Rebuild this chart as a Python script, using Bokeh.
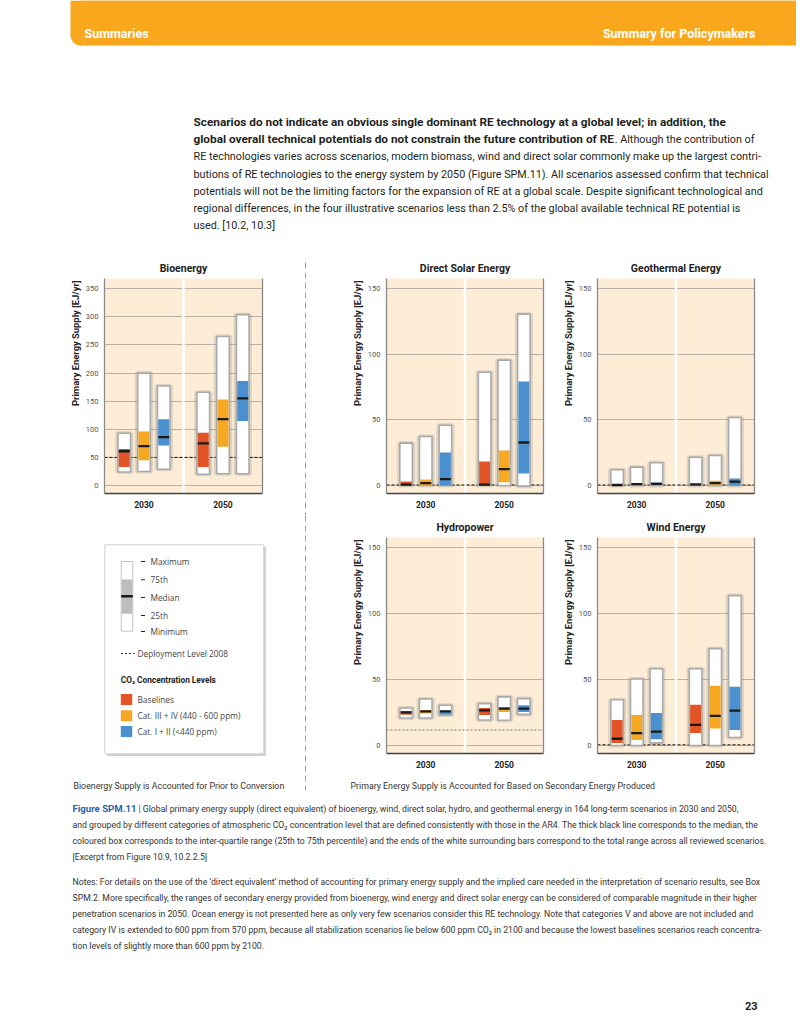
from bokeh.plotting import figure
from bokeh.models import Range1d, LinearAxis, FixedTicker, Title, Span
from bokeh.layouts import column, row
from bokeh.embed import file_html
from bokeh.resources import INLINE
from bokeh.core.properties import value

FONT = "Roboto"
SANS = "Open Sans"
TXT = "#231f20"
PEACH = "#FDEDD7"
GRID = "#b9b1a7"

YEARS = ["2030", "2050"]
GROUPS = ["Baselines", "Cat. III + IV (440 - 600 ppm)", "Cat. I + II (<440 ppm)"]
COLORS = ["#E25326", "#F7A823", "#4A90CE"]

# order of each list: 2030 (Baselines, Cat III+IV, Cat I+II), 2050 (Baselines, Cat III+IV, Cat I+II)
BIO_MIN = [24, 25, 29, 20, 21, 21]
BIO_Q25 = [33, 45, 71, 33, 69, 115]
BIO_MED = [61, 70, 86, 75, 118, 155]
BIO_Q75 = [65, 96, 118, 94, 153, 186]
BIO_MAX = [93, 200, 177, 166, 265, 304]

SOL_MIN = [0, 0, 0, 0, 0, -0.5]
SOL_Q25 = [0, 0, 0, 0, 2.5, 9.2]
SOL_MED = [0.6, 1.8, 4.8, 0.6, 12.5, 32.8]
SOL_Q75 = [3, 4.6, 25.2, 18.3, 26.7, 79.3]
SOL_MAX = [32.3, 37.4, 46, 86.4, 95.6, 130.7]

GEO_MIN = [0, 0, 0, 0, 0, 0]
GEO_Q25 = [0, 0, 0.5, 0, 0.5, 0]
GEO_MED = [0.4, 1.0, 1.2, 0.8, 1.8, 3.0]
GEO_Q75 = [0.5, 1.2, 2.3, 1.0, 3.6, 5.3]
GEO_MAX = [12, 14, 17.3, 21.6, 22.9, 51.9]

HYD_MIN = [20.8, 20.8, 23.1, 19.3, 19.1, 23.6]
HYD_Q25 = [23.4, 24.2, 23.6, 23.1, 25.4, 25.4]
HYD_MED = [25.2, 25.9, 25.9, 26.7, 28.0, 28.0]
HYD_Q75 = [26.0, 26.7, 26.4, 28.5, 29.2, 30.5]
HYD_MAX = [28.5, 35.3, 30.5, 31.8, 36.9, 35.6]

WIN_MIN = [0, 0, 2, 0, 0, 6.1]
WIN_Q25 = [1.8, 4.1, 4.8, 9.4, 12.8, 11.7]
WIN_MED = [5.1, 9.4, 10.5, 15.6, 22.4, 26.5]
WIN_Q75 = [19.4, 23.2, 24.7, 30.9, 45.4, 44.6]
WIN_MAX = [34.7, 50.5, 58.2, 58.2, 73.5, 113.8]

DEPLOY_2008 = {"bio": 50, "sol": 0.4, "geo": 0.4, "hyd": 11.7, "win": 0.5}

BIO_TICKS = [0, 50, 100, 150, 200, 250, 300, 350]
OTHER_TICKS = [0, 50, 100, 150]

PARAGRAPH = [
    ("Scenarios do not indicate an obvious single dominant RE technology at a global level; in addition, the", ""),
    ("global overall technical potentials do not constrain the future contribution of RE", ". Although the contribution of"),
    ("", "RE technologies varies across scenarios, modern biomass, wind and direct solar commonly make up the largest contri-"),
    ("", "butions of RE technologies to the energy system by 2050 (Figure SPM.11). All scenarios assessed confirm that technical"),
    ("", "potentials will not be the limiting factors for the expansion of RE at a global scale. Despite significant technological and"),
    ("", "regional differences, in the four illustrative scenarios less than 2.5% of the global available technical RE potential is"),
    ("", "used. [10.2, 10.3]"),
]

CAPTION_FIRST = "| Global primary energy supply (direct equivalent) of bioenergy, wind, direct solar, hydro, and geothermal energy in 164 long-term scenarios in 2030 and 2050,"
CAPTION = [
    "and grouped by different categories of atmospheric CO\u2082 concentration level that are defined consistently with those in the AR4. The thick black line corresponds to the median, the",
    "coloured box corresponds to the inter-quartile range (25th to 75th percentile) and the ends of the white surrounding bars correspond to the total range across all reviewed scenarios.",
    "[Excerpt from Figure 10.9, 10.2.2.5]",
]

NOTES = [
    "Notes: For details on the use of the \u2018direct equivalent\u2019 method of accounting for primary energy supply and the implied care needed in the interpretation of scenario results, see Box",
    "SPM.2. More specifically, the ranges of secondary energy provided from bioenergy, wind energy and direct solar energy can be considered of comparable magnitude in their higher",
    "penetration scenarios in 2050. Ocean energy is not presented here as only very few scenarios consider this RE technology. Note that categories V and above are not included and",
    "category IV is extended to 600 ppm from 570 ppm, because all stabilization scenarios lie below 600 ppm CO\u2082 in 2100 and because the lowest baselines scenarios reach concentra-",
    "tion levels of slightly more than 600 ppm by 2100.",
]


def no_align(p):
    try:
        p.frame_align = False
    except Exception:
        pass


def canvas(w, h, x0, y0):
    p = figure(width=w, height=h, x_range=Range1d(x0, x0 + w), y_range=Range1d(y0 + h, y0),
               output_backend="svg", toolbar_location=None, x_axis_location=None,
               y_axis_location=None, min_border=0)
    p.min_border_left = p.min_border_right = p.min_border_top = p.min_border_bottom = 0
    p.grid.visible = False
    p.outline_line_color = None
    p.background_fill_color = "white"
    p.border_fill_color = "white"
    no_align(p)
    return p


def txt(p, x, y, s, size, color=TXT, bold=False, align="left", font=FONT):
    p.text(x=[x], y=[y], text=[s], text_font=value(font), text_font_size=value(f"{size}px"),
           text_font_style="bold" if bold else "normal", text_color=color,
           text_align=align, text_baseline="middle")


def panel(name, w, bl, br, bt, bb, yr, ticks, mins, q25, med, q75, maxs, deploy,
          dep_color="#111111", dep_dash="3 2"):
    p = figure(width=w, height=260, x_range=Range1d(0, 4), y_range=Range1d(*yr),
               output_backend="svg", toolbar_location=None, x_axis_location=None,
               y_axis_location=None, title=name)
    no_align(p)
    p.min_border_left = bl
    p.min_border_right = br
    p.min_border_top = bt
    p.min_border_bottom = bb
    p.title.align = "center"
    p.title.text_font = FONT
    p.title.text_font_size = "10.5px"
    p.title.text_font_style = "bold"
    p.title.text_color = "#222222"
    p.title.standoff = 7
    p.background_fill_color = PEACH
    p.border_fill_color = "white"
    p.outline_line_color = None
    p.xgrid.visible = False
    p.ygrid.ticker = FixedTicker(ticks=ticks)
    p.ygrid.grid_line_color = GRID
    p.ygrid.grid_line_width = 1

    yax = LinearAxis(ticker=FixedTicker(ticks=ticks))
    yax.major_tick_line_color = None
    yax.minor_tick_line_color = None
    yax.major_tick_out = 0
    yax.major_tick_in = 0
    yax.minor_tick_out = 0
    yax.axis_line_color = "#8a8a8a"
    yax.axis_line_width = 1.3
    yax.major_label_text_font = FONT
    yax.major_label_text_font_size = "7.5px"
    yax.major_label_text_color = "#555555"
    yax.major_label_standoff = 6
    p.add_layout(yax, "left")
    p.add_layout(Title(text="Primary Energy Supply [EJ/yr]", align="right", offset=2,
                       text_font=FONT, text_font_size="9.4px", text_font_style="bold",
                       text_color="#222222", standoff=4), "left")

    xax = LinearAxis(ticker=FixedTicker(ticks=[1, 3]),
                     major_label_overrides={1: YEARS[0], 3: YEARS[1]})
    xax.major_tick_line_color = None
    xax.minor_tick_line_color = None
    xax.major_tick_out = 0
    xax.major_tick_in = 0
    xax.minor_tick_out = 0
    xax.axis_line_color = "#444444"
    xax.axis_line_width = 1.5
    xax.major_label_text_font = FONT
    xax.major_label_text_font_size = "8.5px"
    xax.major_label_text_font_style = "bold"
    xax.major_label_text_color = "#222222"
    xax.major_label_standoff = 7
    p.add_layout(xax, "below")

    rax = LinearAxis(ticker=FixedTicker(ticks=[]))
    rax.major_tick_line_color = None
    rax.minor_tick_line_color = None
    rax.major_tick_out = 0
    rax.major_label_text_font_size = "0px"
    rax.major_label_standoff = 0
    rax.axis_line_color = "#8a8a8a"
    rax.axis_line_width = 1.3
    p.add_layout(rax, "right")

    p.add_layout(Span(location=2, dimension="height", line_color="white", line_width=2.5,
                      level="underlay"))
    p.add_layout(Span(location=deploy, dimension="width", line_color=dep_color,
                      line_dash=dep_dash, line_width=1, level="underlay"))

    xs = [g + o for g in (1, 3) for o in (-0.5, 0.0, 0.5)]
    cols = COLORS * 2
    p.vbar(x=xs, width=0.36, bottom=mins, top=maxs, fill_color=None, line_color="#777777",
           line_alpha=0.22, line_width=4)
    p.vbar(x=xs, width=0.32, bottom=mins, top=maxs, fill_color="white",
           line_color="#a9a9a9", line_width=1.6)
    p.vbar(x=xs, width=0.28, bottom=q25, top=q75, fill_color=cols, line_color=None)
    p.rect(x=xs, y=med, width=0.28, height=2.3, height_units="screen",
           fill_color="#1a1a1a", line_color=None)
    return p


# ---------- top: header + paragraph ----------
top = canvas(796, 255, 0, 0)
top.quad(left=[70], right=[796], top=[0], bottom=[35], fill_color="#F9A81E", line_color=None)
top.quad(left=[80], right=[796], top=[0], bottom=[45], fill_color="#F9A81E", line_color=None)
top.circle(x=[80], y=[35], radius=10, fill_color="#F9A81E", line_color=None)
txt(top, 84, 33, "Summaries", 12.5, color="white", bold=True)
txt(top, 755, 33, "Summary for Policymakers", 12.5, color="white", bold=True, align="right")
py = [121.5, 138.8, 156.2, 173.5, 190.8, 208.0, 225.4]
for (b, n), y in zip(PARAGRAPH, py):
    if b:
        txt(top, 193, y, b, 11.8, bold=True)
        if n:
            txt(top, 754, y, n, 10.8, align="right")
    else:
        txt(top, 193, y, n, 10.8)

# ---------- row B ----------
YR_BIO = (-14.2, 368.3)
YR_OTH = (-6.1, 157.9)
bio = panel("Bioenergy", 290, 104, 28, 23, 22, YR_BIO, BIO_TICKS,
            BIO_MIN, BIO_Q25, BIO_MED, BIO_Q75, BIO_MAX, DEPLOY_2008["bio"])
sep1 = canvas(30, 260, 290, 255)
sep1.segment(x0=[305], y0=[262], x1=[305], y1=[515], line_color="#a0a0a0", line_width=1,
             line_dash="6 4")
sol = panel("Direct Solar Energy", 235, 66, 12, 23, 22, YR_OTH, OTHER_TICKS,
            SOL_MIN, SOL_Q25, SOL_MED, SOL_Q75, SOL_MAX, DEPLOY_2008["sol"])
geo = panel("Geothermal Energy", 241, 42, 42, 23, 22, YR_OTH, OTHER_TICKS,
            GEO_MIN, GEO_Q25, GEO_MED, GEO_Q75, GEO_MAX, DEPLOY_2008["geo"])

# ---------- row C ----------
leg = canvas(290, 260, 0, 515)
leg.quad(left=[106.5], right=[265.5], top=[546.5], bottom=[755.5], fill_color="#bdbdbd",
         fill_alpha=0.7, line_color=None)
leg.quad(left=[104.3], right=[263.3], top=[544.3], bottom=[753.3], fill_color="white",
         line_color="#d0d0d0", line_width=1)
leg.quad(left=[120.7], right=[132.3], top=[561], bottom=[630.7], fill_color="white",
         line_color="#c4c4c4", line_width=1)
leg.quad(left=[121.2], right=[131.8], top=[579], bottom=[613.3], fill_color="#bdbdbd",
         line_color=None)
leg.quad(left=[120.7], right=[132.3], top=[594.5], bottom=[597], fill_color="#1a1a1a",
         line_color=None)
for lab, yy in zip(["Maximum", "75th", "Median", "25th", "Minimum"],
                   [561, 579.3, 597, 615, 631]):
    leg.segment(x0=[140.5], y0=[yy], x1=[144.5], y1=[yy], line_color="#222222", line_width=1)
    txt(leg, 150, yy, lab, 8.3, color="#444444", font=SANS)
leg.segment(x0=[120.5], y0=[653], x1=[134], y1=[653], line_color="#222222", line_width=1,
            line_dash="2 2")
txt(leg, 137, 653, "Deployment Level 2008", 8.3, color="#444444", font=SANS)
txt(leg, 120.3, 679.3, "CO\u2082 Concentration Levels", 8.3, color="#222222", bold=True)
for lab, c, yy in zip(GROUPS, COLORS, [699, 715.3, 731]):
    leg.quad(left=[120.3], right=[131.7], top=[yy - 5.5], bottom=[yy + 5.5], fill_color=c,
             line_color=None)
    txt(leg, 137, yy, lab, 8.3, color="#444444", font=SANS)

sep2 = canvas(30, 260, 290, 515)
sep2.segment(x0=[305], y0=[515], x1=[305], y1=[775], line_color="#a0a0a0", line_width=1,
             line_dash="6 4")
hyd = panel("Hydropower", 235, 66, 12, 22, 22, YR_OTH, OTHER_TICKS,
            HYD_MIN, HYD_Q25, HYD_MED, HYD_Q75, HYD_MAX, DEPLOY_2008["hyd"],
            dep_color="#7a7a7a", dep_dash="2 2")
win = panel("Wind Energy", 241, 42, 42, 22, 22, YR_OTH, OTHER_TICKS,
            WIN_MIN, WIN_Q25, WIN_MED, WIN_Q75, WIN_MAX, DEPLOY_2008["win"])

# ---------- bottom: footer labels, caption, notes ----------
bot = canvas(796, 255, 0, 775)
bot.segment(x0=[305], y0=[775], x1=[305], y1=[790], line_color="#a0a0a0", line_width=1,
            line_dash="6 4")
txt(bot, 73, 785, "Bioenergy Supply is Accounted for Prior to Conversion", 8.8, color="#333333")
txt(bot, 350, 785, "Primary Energy Supply is Accounted for Based on Secondary Energy Produced",
    8.8, color="#333333")
txt(bot, 72, 808, "Figure SPM.11", 9.6, color="#1f64ad", bold=True)
txt(bot, 138, 808, CAPTION_FIRST, 8.7, color="#333333")
for line, y in zip(CAPTION, [824, 840, 856]):
    txt(bot, 72, y, line, 8.7, color="#333333")
for line, y in zip(NOTES, [881, 897, 913, 929, 945]):
    txt(bot, 72, y, line, 8.7, color="#333333")
txt(bot, 757, 1005, "23", 11, color="#222222", bold=True, align="right")

layout = column(top, row(bio, sep1, sol, geo), row(leg, sep2, hyd, win), bot)
open("out.html", "w").write(file_html(layout, INLINE))
